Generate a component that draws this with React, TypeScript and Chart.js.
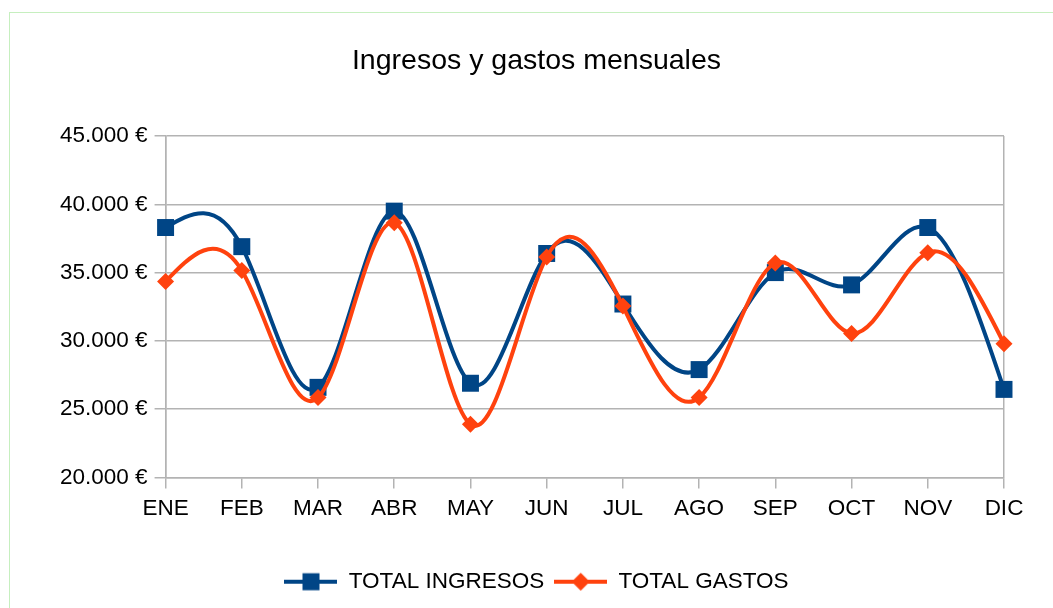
import React, { useEffect, useRef } from 'react';
import { Chart, registerables } from 'chart.js';

Chart.register(...registerables);

const chartTitle = 'Ingresos y gastos mensuales';
const months = ['ENE', 'FEB', 'MAR', 'ABR', 'MAY', 'JUN', 'JUL', 'AGO', 'SEP', 'OCT', 'NOV', 'DIC'];
const seriesNames = ['TOTAL INGRESOS', 'TOTAL GASTOS'];
const totalIngresos = [38300, 36900, 26600, 39500, 26900, 36400, 32700, 27900, 35000, 34100, 38300, 26450];
const totalGastos = [34350, 35150, 25850, 38650, 23900, 36150, 32550, 25850, 35700, 30550, 36450, 29800];
const yTickValues = [20000, 25000, 30000, 35000, 40000, 45000];

const BLUE = '#004586';
const ORANGE = '#ff420e';
const GRID = '#b3b3b3';
const FONT = '"Liberation Sans", Arial, sans-serif';

function formatEuro(v: number): string {
  return String(Math.round(v)).replace(/\B(?=(\d{3})+(?!\d))/g, '.') + ' €';
}

function legendSwatch(color: string, shape: 'rect' | 'diamond'): HTMLCanvasElement {
  const c = document.createElement('canvas');
  c.width = 53;
  c.height = 20;
  const g = c.getContext('2d')!;
  g.strokeStyle = color;
  g.lineWidth = 4;
  g.beginPath();
  g.moveTo(0, 10);
  g.lineTo(53, 10);
  g.stroke();
  g.fillStyle = color;
  if (shape === 'rect') {
    g.fillRect(26.5 - 8.5, 1.5, 17, 17);
  } else {
    g.beginPath();
    g.moveTo(26.5, 1);
    g.lineTo(35.5, 10);
    g.lineTo(26.5, 19);
    g.lineTo(17.5, 10);
    g.closePath();
    g.fill();
  }
  return c;
}

// Natural cubic spline through the dataset's own pixel positions (from Chart.js scales)
const splinePlugin = {
  id: 'naturalSpline',
  beforeDatasetDraw(chart: any, args: any) {
    const meta = args.meta;
    const ds = chart.data.datasets[args.index];
    const pts = meta.data.map((p: any) => ({ x: p.x, y: p.y }));
    const n = pts.length;
    if (n < 2) return;
    const h: number[] = [];
    for (let i = 0; i < n - 1; i++) h.push(pts[i + 1].x - pts[i].x);
    const M = new Array(n).fill(0);
    if (n > 2) {
      const a: number[] = [], b: number[] = [], c: number[] = [], d: number[] = [];
      for (let i = 1; i < n - 1; i++) {
        a.push(h[i - 1]);
        b.push(2 * (h[i - 1] + h[i]));
        c.push(h[i]);
        d.push(6 * ((pts[i + 1].y - pts[i].y) / h[i] - (pts[i].y - pts[i - 1].y) / h[i - 1]));
      }
      const m = b.length;
      for (let i = 1; i < m; i++) {
        const w = a[i] / b[i - 1];
        b[i] -= w * c[i - 1];
        d[i] -= w * d[i - 1];
      }
      const sol = new Array(m).fill(0);
      sol[m - 1] = d[m - 1] / b[m - 1];
      for (let i = m - 2; i >= 0; i--) sol[i] = (d[i] - c[i] * sol[i + 1]) / b[i];
      for (let i = 0; i < m; i++) M[i + 1] = sol[i];
    }
    const ctx = chart.ctx;
    ctx.save();
    ctx.strokeStyle = ds.borderColor;
    ctx.lineWidth = ds.borderWidth;
    ctx.lineJoin = 'round';
    ctx.lineCap = 'round';
    ctx.beginPath();
    ctx.moveTo(pts[0].x, pts[0].y);
    for (let i = 0; i < n - 1; i++) {
      const hi = h[i];
      const s = (pts[i + 1].y - pts[i].y) / hi;
      const d0 = s - (hi * (2 * M[i] + M[i + 1])) / 6;
      const d1 = s + (hi * (M[i] + 2 * M[i + 1])) / 6;
      ctx.bezierCurveTo(
        pts[i].x + hi / 3,
        pts[i].y + (d0 * hi) / 3,
        pts[i + 1].x - hi / 3,
        pts[i + 1].y - (d1 * hi) / 3,
        pts[i + 1].x,
        pts[i + 1].y
      );
    }
    ctx.stroke();
    ctx.restore();
  },
};

// Shift title and legend so they are centred like the reference (LibreOffice centres on the page)
const centreShiftPlugin = {
  id: 'centreShift',
  afterLayout(chart: any) {
    const shift = 8;
    [chart.titleBlock, chart.legend].forEach((box: any) => {
      if (box) {
        box.left += shift;
        box.right += shift;
      }
    });
  },
};

export default function App() {
  const canvasRef = useRef<HTMLCanvasElement | null>(null);

  useEffect(() => {
    const canvas = canvasRef.current;
    if (!canvas) return;
    const swatches = [legendSwatch(BLUE, 'rect'), legendSwatch(ORANGE, 'diamond')];
    const chart = new Chart(canvas, {
      type: 'line',
      plugins: [splinePlugin, centreShiftPlugin],
      data: {
        labels: months,
        datasets: [
          {
            label: seriesNames[0],
            data: totalIngresos,
            borderColor: BLUE,
            backgroundColor: BLUE,
            borderWidth: 4,
            showLine: false,
            pointStyle: 'rect',
            pointRadius: 12,
            pointBorderWidth: 0,
            pointBackgroundColor: BLUE,
            order: 1,
            clip: false as any,
          },
          {
            label: seriesNames[1],
            data: totalGastos,
            borderColor: ORANGE,
            backgroundColor: ORANGE,
            borderWidth: 4,
            showLine: false,
            pointStyle: 'rectRot',
            pointRadius: 8.5,
            pointBorderWidth: 0,
            pointBackgroundColor: ORANGE,
            order: 0,
            clip: false as any,
          },
        ],
      },
      options: {
        responsive: false,
        animation: false,
        devicePixelRatio: 1,
        layout: { padding: { top: 44, left: 53, right: 49, bottom: 5 } },
        plugins: {
          title: {
            display: true,
            text: chartTitle,
            color: '#000',
            font: { family: FONT, size: 28.5, weight: 'normal' },
            padding: { top: 0, bottom: 57.8 },
          },
          legend: {
            display: true,
            position: 'bottom',
            labels: {
              color: '#000',
              font: { family: FONT, size: 22.5 },
              usePointStyle: true,
              pointStyleWidth: 53,
              padding: 10,
              sort: (a: any, b: any) => a.datasetIndex - b.datasetIndex,
              generateLabels: (ch: any) => {
                const items = Chart.defaults.plugins.legend.labels.generateLabels(ch);
                items.forEach((it: any) => {
                  it.pointStyle = swatches[it.datasetIndex];
                });
                return items;
              },
            },
          },
          tooltip: { enabled: false },
        },
        scales: {
          x: {
            offset: false,
            grid: {
              display: true,
              drawOnChartArea: true,
              color: (ctx: any) =>
                ctx.index === 0 || ctx.index === months.length - 1 ? GRID : 'rgba(0,0,0,0)',
              tickColor: GRID,
              tickLength: 11,
              lineWidth: 1.5,
            },
            border: { display: true, color: GRID, width: 1.5 },
            ticks: {
              color: '#000',
              font: { family: FONT, size: 22.5 },
              padding: 7,
              maxRotation: 0,
              autoSkip: false,
            },
            afterFit: (scale: any) => {
              scale.height = 83;
            },
          },
          y: {
            min: 20000,
            max: 45000,
            grid: { color: GRID, lineWidth: 1.5, tickLength: 11 },
            border: { display: true, color: GRID, width: 1.5 },
            afterBuildTicks: (scale: any) => {
              scale.ticks = yTickValues.map((v) => ({ value: v }));
            },
            ticks: {
              color: '#000',
              font: { family: FONT, size: 22.5 },
              padding: 7,
              callback: (v: any) => formatEuro(Number(v)),
            },
          },
        },
      },
    });
    return () => chart.destroy();
  }, []);

  return (
    <>
      <div
        style={{
          position: 'fixed',
          left: 9,
          top: 12,
          width: 2000,
          height: 2000,
          borderLeft: '1px solid #c6efbf',
          borderTop: '1px solid #c6efbf',
          boxSizing: 'border-box',
        }}
      />
      <canvas
        ref={canvasRef}
        width={1053}
        height={608}
        style={{ position: 'fixed', left: 0, top: 0, width: 1053, height: 608, display: 'block' }}
      />
    </>
  );
}
